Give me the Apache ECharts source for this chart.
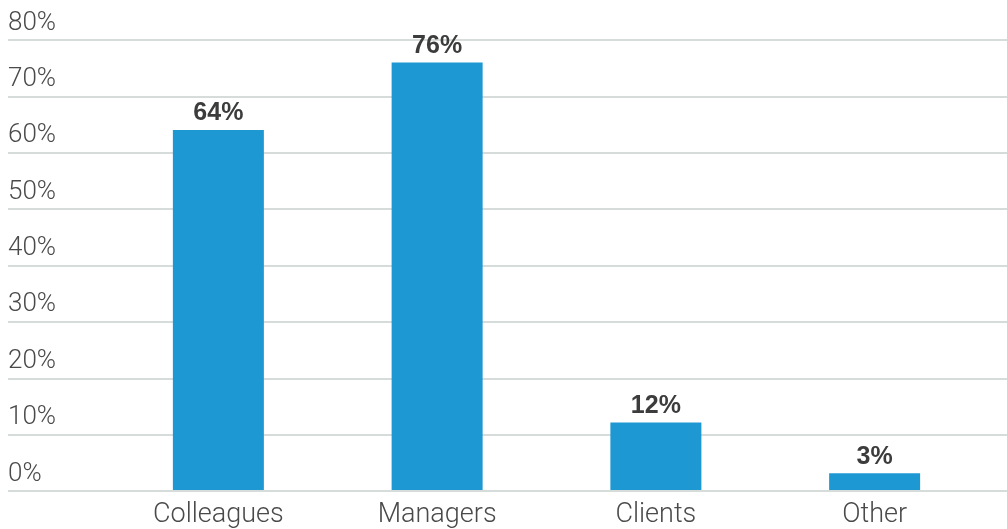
<!DOCTYPE html>
<html>
<head>
<meta charset="utf-8">
<script src="https://cdn.jsdelivr.net/npm/echarts@6/dist/echarts.min.js"></script>
<style>
  html, body { margin: 0; padding: 0; background: #ffffff; }
  #chart { width: 1007px; height: 529px; }
</style>
</head>
<body>
<div id="chart"></div>
<script>
// Who people turn to, share of respondents (%)
const categories = ['Colleagues', 'Managers', 'Clients', 'Other'];
const shares = [64, 76, 12, 3];
const yTicks = [0, 10, 20, 30, 40, 50, 60, 70, 80];

const LIGHT_FONT = 'Roboto, "Helvetica Neue", Arial, sans-serif';
const BOLD_FONT = '"Liberation Sans", Arial, Helvetica, sans-serif';
const yMax = yTicks[yTicks.length - 1];
const yStep = yTicks[1] - yTicks[0];

const chart = echarts.init(document.getElementById('chart'), null, { renderer: 'canvas' });

chart.setOption({
  animation: false,
  backgroundColor: '#ffffff',
  grid: [
    // full-width grid carrying the gridlines and the percentage labels
    { left: 8, right: 0, top: 40, bottom: 38 },
    // inner grid holding the bars
    { left: 109, right: 23, top: 40, bottom: 38 }
  ],
  xAxis: [
    { gridIndex: 0, type: 'value', show: false, min: 0, max: 1 },
    {
      gridIndex: 1,
      type: 'category',
      data: categories,
      axisLine: { show: false },
      axisTick: { show: false },
      axisLabel: {
        margin: 12,
        fontFamily: LIGHT_FONT,
        fontWeight: 300,
        fontSize: 27,
        color: '#4a4a4a'
      }
    }
  ],
  yAxis: [
    {
      gridIndex: 0,
      type: 'value',
      min: 0,
      max: yMax,
      interval: yStep,
      axisLine: { show: false },
      axisTick: { show: false },
      splitLine: { lineStyle: { color: '#c8d1ce', width: 1.5 } },
      axisLabel: {
        inside: true,
        margin: 0,
        verticalAlign: 'bottom',
        padding: [0, 0, 4, 0],
        fontFamily: LIGHT_FONT,
        fontWeight: 300,
        fontSize: 26,
        color: '#4a4a4a',
        formatter: v => v + '%'
      }
    },
    {
      gridIndex: 1,
      type: 'value',
      min: 0,
      max: yMax,
      interval: yStep,
      show: false,
      splitLine: { show: false }
    }
  ],
  series: [{
    type: 'bar',
    xAxisIndex: 1,
    yAxisIndex: 1,
    data: shares,
    barWidth: 91,
    itemStyle: { color: '#1e98d3' },
    label: {
      show: true,
      position: 'top',
      distance: 4,
      fontFamily: BOLD_FONT,
      fontWeight: 'bold',
      fontSize: 25,
      color: '#3c3c3c',
      formatter: p => p.value + '%'
    }
  }]
});
</script>
</body>
</html>
